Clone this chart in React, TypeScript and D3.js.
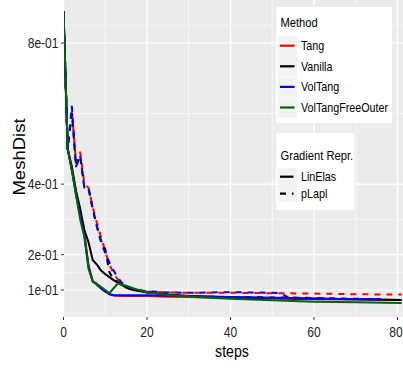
import React from 'react'
import * as d3 from 'd3'

const W = 403
const H = 368

// MeshDist per step, one pair of arrays per Method x Gradient Repr.
const tangLinSteps = [0, 1, 2, 3, 4, 5, 6, 7, 8, 9, 10, 11, 12, 14, 17, 20, 25, 30, 40, 50, 60, 70, 81]
const tangLinVals = [0.89, 0.5, 0.44, 0.38, 0.32, 0.26, 0.17, 0.125, 0.118, 0.108, 0.098, 0.088, 0.084, 0.083, 0.083, 0.083, 0.081, 0.08, 0.078, 0.076, 0.074, 0.073, 0.0715]

const tangPlaplSteps = [0, 1, 2, 3, 4, 5, 6, 7, 8, 9, 10, 11, 12, 13, 14, 15, 17, 20, 25, 30, 40, 50, 60, 70, 81]
const tangPlaplVals = [0.89, 0.5, 0.61, 0.46, 0.49, 0.4, 0.39, 0.335, 0.29, 0.25, 0.21, 0.172, 0.147, 0.13, 0.118, 0.106, 0.1, 0.096, 0.093, 0.092, 0.092, 0.091, 0.09, 0.088, 0.087]

const vanillaLinSteps = [0, 1, 2, 3, 4, 5, 6, 7, 8, 9, 10, 12, 14, 16, 18, 20, 25, 30, 40, 50, 60, 70, 81]
const vanillaLinVals = [0.89, 0.5, 0.45, 0.38, 0.33, 0.27, 0.235, 0.185, 0.172, 0.155, 0.145, 0.128, 0.114, 0.102, 0.097, 0.093, 0.087, 0.083, 0.079, 0.077, 0.075, 0.074, 0.072]

const vanillaPlaplSteps = [0, 1, 2, 3, 4, 5, 6, 7, 8, 9, 10, 11, 12, 13, 14, 16, 20, 25, 30, 40, 50, 54, 60, 70, 76]
const vanillaPlaplVals = [0.89, 0.5, 0.6, 0.45, 0.48, 0.39, 0.39, 0.33, 0.28, 0.24, 0.215, 0.15, 0.13, 0.123, 0.115, 0.104, 0.094, 0.087, 0.082, 0.08, 0.079, 0.079, 0.077, 0.075, 0.074]

const volTangLinSteps = [0, 1, 2, 3, 4, 5, 6, 7, 8, 9, 10, 11, 12, 15, 20, 30, 40, 50, 60, 70, 76]
const volTangLinVals = [0.89, 0.5, 0.44, 0.37, 0.31, 0.255, 0.165, 0.124, 0.115, 0.104, 0.095, 0.088, 0.086, 0.085, 0.085, 0.083, 0.08, 0.078, 0.076, 0.074, 0.0735]

const volTangPlaplSteps = [0, 1, 2, 3, 4, 5, 6, 7, 8, 9, 10, 11, 12, 13, 14, 15, 16, 18, 20, 25, 30, 35, 40, 45, 50, 52, 54, 60, 70, 76]
const volTangPlaplVals = [0.89, 0.5, 0.62, 0.45, 0.48, 0.39, 0.385, 0.33, 0.28, 0.235, 0.205, 0.178, 0.155, 0.135, 0.12, 0.112, 0.106, 0.1, 0.097, 0.093, 0.092, 0.093, 0.094, 0.093, 0.092, 0.091, 0.078, 0.076, 0.0745, 0.0735]

const freeOuterLinSteps = [0, 1, 2, 3, 4, 5, 6, 7, 8, 9, 10, 11, 12, 13, 15, 17, 20, 25, 30, 40, 50, 60, 70, 81]
const freeOuterLinVals = [0.89, 0.5, 0.44, 0.37, 0.3, 0.25, 0.16, 0.124, 0.116, 0.108, 0.1, 0.091, 0.105, 0.118, 0.112, 0.104, 0.093, 0.086, 0.081, 0.075, 0.071, 0.067, 0.065, 0.063]

const methods = ['Tang', 'Vanilla', 'VolTang', 'VolTangFreeOuter']
const methodColors = ['#ff0000', '#000000', '#0000ff', '#006400']
const gradReprs = ['LinElas', 'pLapl']

const xTicks = [0, 20, 40, 60, 80]
const xMinor = [10, 30, 50, 70]
const yTicks = [0.1, 0.2, 0.4, 0.8]
const yTickLabels = ['1e-01', '2e-01', '4e-01', '8e-01']
const yMinor = [0.15, 0.3, 0.6, 0.85]

const series = [
  { method: 0, repr: 0, steps: tangLinSteps, vals: tangLinVals },
  { method: 0, repr: 1, steps: tangPlaplSteps, vals: tangPlaplVals },
  { method: 1, repr: 0, steps: vanillaLinSteps, vals: vanillaLinVals },
  { method: 1, repr: 1, steps: vanillaPlaplSteps, vals: vanillaPlaplVals },
  { method: 2, repr: 0, steps: volTangLinSteps, vals: volTangLinVals },
  { method: 2, repr: 1, steps: volTangPlaplSteps, vals: volTangPlaplVals },
  { method: 3, repr: 0, steps: freeOuterLinSteps, vals: freeOuterLinVals },
]

const FONT = '"Liberation Sans", Arial, Helvetica, sans-serif'
const SX = 0.86 // the picture's text is squeezed horizontally

// text squeezed along x
const Txt = ({ x, y, size, anchor = 'start', fill = '#000', children }: any) => (
  <text
    transform={`translate(${x},${y}) scale(${SX},1)`}
    textAnchor={anchor}
    fontSize={size}
    fontFamily={FONT}
    fill={fill}
  >
    {children}
  </text>
)

const App = () => {
  const pLeft = 64
  const pRight = 403
  const pTop = 0
  const pBottom = 317

  const x = d3.scaleLinear().domain([0, 80]).range([63.5, 397.5])
  const y = d3.scaleLinear().domain([0.1, 0.8]).range([290, 43])

  const line = d3
    .line<[number, number]>()
    .x((d) => x(d[0]))
    .y((d) => y(d[1]))

  const dash = '6,6'

  // legend geometry
  const lg1 = { x: 276, y: 7, w: 116, h: 116 }
  const lg2 = { x: 276, y: 133, w: 78, h: 77 }
  const item1Y = (i: number) => 45.7 + i * 20.6
  const item2Y = (i: number) => 176.7 + i * 17

  return (
    <svg
      width={W}
      height={H}
      style={{ position: 'absolute', left: 0, top: 0, background: '#fff' }}
    >
      <defs>
        <clipPath id="panel">
          <rect x={pLeft} y={pTop} width={pRight - pLeft} height={pBottom - pTop} />
        </clipPath>
      </defs>

      {/* panel */}
      <rect x={pLeft} y={pTop} width={pRight - pLeft} height={pBottom - pTop} fill="#ebebeb" />
      {yMinor.map((v) => (
        <line key={'ym' + v} x1={pLeft} x2={pRight} y1={y(v)} y2={y(v)} stroke="#fff" strokeWidth={0.6} />
      ))}
      {xMinor.map((v) => (
        <line key={'xm' + v} x1={x(v)} x2={x(v)} y1={pTop} y2={pBottom} stroke="#fff" strokeWidth={0.6} />
      ))}
      {yTicks.map((v) => (
        <line key={'yM' + v} x1={pLeft} x2={pRight} y1={y(v)} y2={y(v)} stroke="#fff" strokeWidth={1.2} />
      ))}
      {xTicks.map((v) => (
        <line key={'xM' + v} x1={x(v)} x2={x(v)} y1={pTop} y2={pBottom} stroke="#fff" strokeWidth={1.2} />
      ))}

      {/* lines */}
      <g clipPath="url(#panel)" fill="none" strokeWidth={2} strokeLinejoin="round">
        {series.map((s, i) => (
          <path
            key={i}
            d={line(s.steps.map((st, j) => [st, s.vals[j]] as [number, number])) || ''}
            stroke={methodColors[s.method]}
            strokeDasharray={s.repr === 1 ? dash : undefined}
          />
        ))}
      </g>

      {/* axes */}
      {yTicks.map((v, i) => (
        <g key={'yt' + v}>
          <line x1={pLeft - 3} x2={pLeft} y1={y(v)} y2={y(v)} stroke="#333" strokeWidth={1} />
          <Txt x={58.5} y={y(v) + 5} size={14} anchor="end" fill="#222">
            {yTickLabels[i]}
          </Txt>
        </g>
      ))}
      {xTicks.map((v) => (
        <g key={'xt' + v}>
          <line x1={x(v)} x2={x(v)} y1={pBottom} y2={pBottom + 3} stroke="#333" strokeWidth={1} />
          <Txt x={x(v) - (v === 80 ? 1.5 : 0)} y={337} size={14} anchor="middle" fill="#222">
            {v}
          </Txt>
        </g>
      ))}
      <Txt x={232} y={357} size={16.5} anchor="middle">
        steps
      </Txt>
      <text
        transform={`translate(25,157) scale(${SX},1) rotate(-90)`}
        textAnchor="middle"
        fontSize={18.5}
        fontFamily={FONT}
      >
        MeshDist
      </text>

      {/* legend: Method */}
      <rect x={lg1.x} y={lg1.y} width={lg1.w} height={lg1.h} fill="#fff" />
      <Txt x={280.5} y={26.5} size={13}>
        Method
      </Txt>
      {methods.map((m, i) => (
        <g key={m}>
          <rect x={278} y={item1Y(i) - 10} width={19} height={20} fill="#f2f2f2" />
          <line x1={280} x2={294.5} y1={item1Y(i)} y2={item1Y(i)} stroke={methodColors[i]} strokeWidth={2.2} />
          <Txt x={301} y={item1Y(i) + 4.5} size={12.5}>
            {m}
          </Txt>
        </g>
      ))}

      {/* legend: Gradient Repr. */}
      <rect x={lg2.x} y={lg2.y} width={lg2.w} height={lg2.h} fill="#fff" />
      <Txt x={280.5} y={160} size={13}>
        Gradient Repr.
      </Txt>
      {gradReprs.map((g, i) => (
        <g key={g}>
          <rect x={278} y={item2Y(i) - 8.5} width={19} height={17} fill="#f2f2f2" />
          <line
            x1={280}
            x2={293.5}
            y1={item2Y(i)}
            y2={item2Y(i)}
            stroke="#000"
            strokeWidth={2.2}
            strokeDasharray={i === 1 ? dash : undefined}
          />
          <Txt x={301} y={item2Y(i) + 4.5} size={12.5}>
            {g}
          </Txt>
        </g>
      ))}
    </svg>
  )
}

export default App
